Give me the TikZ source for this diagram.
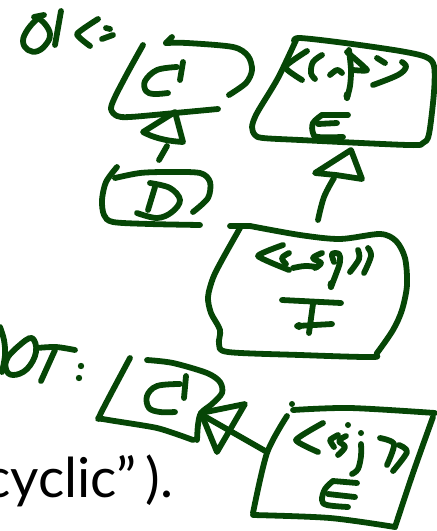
\documentclass[tikz,border=0pt]{standalone}
\usepackage{fontspec}
\setmainfont{Lato}
\definecolor{ink}{RGB}{6,70,6}
\tikzset{
  pen/.style={draw=ink, line width=5.8pt, line cap=round, line join=round},
  blob/.style={fill=ink}
}
% one hand-drawn stroke through the given points
\newcommand\stk[2][0.6]{\draw[pen] plot[smooth,tension=#1] coordinates {#2};}
\begin{document}
\begin{tikzpicture}[x=1pt,y=-1pt]
\useasboundingbox (0,0) rectangle (437,531);
\clip (0,0) rectangle (437,531);

% ---- "OK:" ----
\stk{(34,17) (44,15)}
\stk[0.7]{(38,18) (28,29) (23,41) (28,50) (38,51) (47,43) (50,34) (45,24) (38,18)}
\stk{(61,11) (58,28) (55,45)}
\stk[0.3]{(98,19) (77,34) (90,46)}
\stk{(106,28) (110,29)}
\stk{(102,39) (113,35)}

% ---- OK: box C ----
\stk[0.5]{(143,45) (128,72) (115,97) (111,109) (117,116) (130,117) (175,113) (218,109)}
\stk{(172,37) (166,43)}
\stk[0.5]{(166,43) (187,43) (233,47) (248,56) (252,70) (246,83) (229,95)}
\stk{(183,62) (180,80)}
\stk[0.6]{(177,67) (157,70) (145,81) (146,91) (154,94) (168,93)}

% ---- OK: arrow D -> C ----
\draw[pen] (143,132) -- (175,112) -- (183,142) .. controls (165,141) and (152,137) .. cycle;
\stk{(167,146) (159,160)}

% ---- OK: box D ----
\stk[0.5]{(117,167) (106,182) (102,200) (104,215) (113,222) (150,224) (200,225)}
\stk[0.5]{(115,178) (140,173) (167,172) (200,173) (210,182) (208,198) (193,212)}
\stk{(155,187) (148,210)}
\stk[0.6]{(150,183) (170,188) (180,200) (172,212) (157,218) (137,213)}

% ---- OK: box E with stereotype ----
\stk[0.5]{(294,41) (300,38) (345,43) (400,51) (426,57) (434,66) (434,92) (429,134) (423,143) (408,145) (300,140) (263,138) (255,135) (252,127) (257,113) (278,78) (297,38)}
\stk[0.3]{(307,51) (285,67) (302,80)}
\stk[0.6]{(322,55) (313,62) (311,73) (315,79)}
\stk{(330,75) (337,70) (342,73)}
\stk[0.5]{(349,50) (351,70) (350,86) (347,98)}
\fill[blob] (347,96) ellipse (3.5 and 5);
\stk[0.3]{(347,52) (367,70) (353,70)}
\stk{(377,58) (385,63)}
\stk[0.6]{(402,62) (406,67) (398,75) (373,85)}
\stk{(348,115) (322,115)}
\stk[0.6]{(322,115) (313,123) (313,133) (318,137) (343,137)}
\stk{(318,124) (337,123)}

% ---- OK: arrow F -> E ----
\draw[pen] (315,173) -- (351,150) -- (362,179) -- (336,175) -- cycle;
\stk[0.6]{(334,178) (324,197) (318,220)}

% ---- OK: box F ----
\stk{(230,226) (250,226)}
\stk[0.5]{(250,226) (300,235) (340,239) (380,234) (396,241) (405,258) (407,285) (402,310) (393,330) (377,353) (372,357) (300,355) (228,352) (219,344) (220,330) (211,313) (208,297) (213,278) (222,260) (240,228)}
\stk[0.3]{(283,245) (258,256) (289,270)}
\stk[0.6]{(289,253) (282,258) (286,264)}
\stk[0.6]{(293,268) (305,266) (317,267)}
\stk[0.6]{(322,253) (313,258) (321,263) (315,268)}
\stk[0.6]{(334,262) (332,254) (339,254) (340,262) (336,274) (331,287)}
\fill[blob] (331,285) ellipse (3.5 and 5);
\stk[0.6]{(358,250) (359,259) (350,272)}
\stk[0.6]{(368,248) (371,256) (364,273)}
\stk{(282,300) (341,303)}
\stk{(313,304) (309,333)}
\stk{(297,326) (332,324)}
\fill[blob] (299,326) circle (4);

% ---- "NOT:" ----
\stk[0.6]{(0,327) (4,340) (5,355) (2,372)}
\stk[0.7]{(21,344) (32,338) (36,352) (27,369) (13,375) (6,369) (8,357) (21,344)}
\stk[0.5]{(37,348) (56,347) (75,350)}
\stk{(55,350) (41,381)}
\fill[blob] (81,366) circle (3.2);
\fill[blob] (79,378) circle (3.2);

% ---- NOT: box C ----
\stk[0.4]{(130,358) (100,415) (103,419) (157,428) (193,440)}
\stk[0.5]{(147,360) (173,363) (207,373) (220,382) (222,393) (212,404) (201,413) (198,425) (197,440)}
\stk{(186,376) (184,398)}
\stk[0.6]{(180,384) (157,386) (147,396) (149,408) (160,412) (175,412)}

% ---- NOT: arrow E -> C ----
\draw[pen] (201,413) -- (217,452) -- (245,404) -- cycle;
\stk{(204,416) (267,452)}

% ---- NOT: box E with stereotype ----
\fill[blob] (292,404) circle (3);
\stk[0.5]{(293,410) (350,408) (435,413)}
\stk[0.5]{(287,416) (267,453) (253,513)}
\stk[0.5]{(253,515) (330,518) (395,527)}
\stk[0.5]{(433,417) (413,473) (395,527)}
\stk[0.3]{(323,423) (296,440) (318,452)}
\stk[0.3]{(338,435) (330,440) (334,447)}
\fill[blob] (348,425) circle (3);
\stk[0.6]{(346,436) (339,441) (345,447) (338,455)}
\fill[blob] (361,433) circle (3);
\stk[0.6]{(361,444) (361,456) (358,469) (352,474)}
\stk[0.5]{(380,438) (394,444) (387,465)}
\stk[0.5]{(399,445) (407,452) (393,471)}
\stk{(357,483) (333,481)}
\stk[0.6]{(333,481) (325,489) (322,500) (327,505) (348,507)}
\stk{(328,494) (355,497)}

% ---- sentence tail ----
\node[anchor=base west, inner sep=0pt, text=black] (tail) at (-16,497)
  {\fontsize{55}{60}\selectfont cyclic”\,).};
\end{tikzpicture}
\end{document}
